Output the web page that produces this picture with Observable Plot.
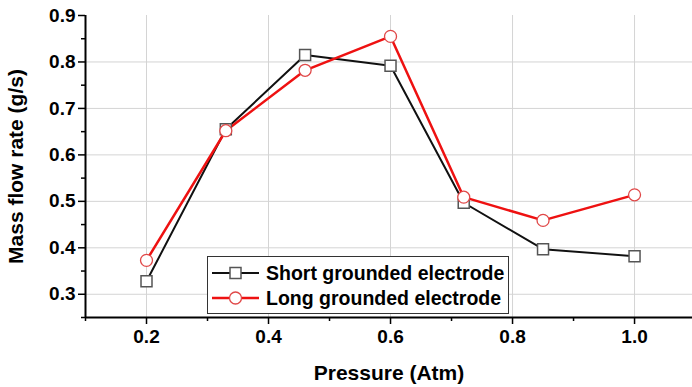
<!DOCTYPE html>
<html>
<head>
<meta charset="utf-8">
<script src="https://cdn.jsdelivr.net/npm/d3@7"></script>
<script src="https://cdn.jsdelivr.net/npm/@observablehq/plot@0.6"></script>
<style>
  html, body { margin: 0; padding: 0; background: #fff; }
  #wrap { position: relative; width: 692px; height: 387px; font-family: "Liberation Sans", Arial, sans-serif; }
  #wrap > svg text { font-size: 19px; font-weight: bold; }
  #legend { position: absolute; left: 207px; top: 256px; width: 302px; height: 58px; border: 1.5px solid #333; background: #fff; box-sizing: border-box; font-weight: bold; font-size: 19.5px; color: #000; }
  #legend .row { position: absolute; left: 0; height: 24px; display: flex; align-items: center; }
  #legend svg { margin-left: 4px; margin-right: 7px; }
</style>
</head>
<body>
<div id="wrap"></div>
<script>
const pressure = [0.2, 0.33, 0.46, 0.6, 0.72, 0.85, 1.0];
const shortElectrode = [0.328, 0.655, 0.815, 0.792, 0.497, 0.397, 0.382];
const longElectrode = [0.373, 0.652, 0.782, 0.855, 0.509, 0.459, 0.514];
const seriesNames = ["Short grounded electrode", "Long grounded electrode"];
const xTicks = [0.2, 0.4, 0.6, 0.8, 1.0];
const xMinor = [0.1, 0.3, 0.5, 0.7, 0.9];
const yTicks = [0.3, 0.4, 0.5, 0.6, 0.7, 0.8, 0.9];
const yMinor = [0.25, 0.35, 0.45, 0.55, 0.65, 0.75, 0.85];

const shortData = pressure.map((p, i) => ({x: p, y: shortElectrode[i]}));
const longData = pressure.map((p, i) => ({x: p, y: longElectrode[i]}));

const chart = Plot.plot({
  width: 692,
  height: 387,
  marginLeft: 85,
  marginRight: 0,
  marginTop: 15,
  marginBottom: 70,
  style: {fontFamily: "'Liberation Sans', Arial, sans-serif", fontWeight: "bold", fontSize: "19px", color: "#000", background: "#fff"},
  x: {domain: [0.1, 1.095]},
  y: {domain: [0.25, 0.9]},
  marks: [
    Plot.gridX(xTicks, {stroke: "#d4d4d4", strokeOpacity: 1, strokeWidth: 1}),
    Plot.gridY(yTicks.slice(0, -1), {stroke: "#d4d4d4", strokeOpacity: 1, strokeWidth: 1}),
    Plot.axisX(xTicks, {tickSize: 7, tickPadding: 5, strokeWidth: 1.5, tickFormat: d => d.toFixed(1), label: "Pressure (Atm)", labelAnchor: "center", labelArrow: "none", labelOffset: 62}),
    Plot.axisX(xMinor, {tickSize: 4, strokeWidth: 1.5, tickFormat: () => "", label: null}),
    Plot.axisY(yTicks, {tickSize: 7, tickPadding: 3, strokeWidth: 1.5, tickFormat: d => d.toFixed(1), label: "Mass flow rate (g/s)", labelAnchor: "center", labelArrow: "none", labelOffset: 77}),
    Plot.axisY(yMinor, {tickSize: 4, strokeWidth: 1.5, tickFormat: () => "", label: null}),
    Plot.ruleY([0.25], {stroke: "#000", strokeWidth: 2}),
    Plot.ruleX([0.1], {stroke: "#000", strokeWidth: 2}),
    Plot.line(shortData, {x: "x", y: "y", stroke: "#111", strokeWidth: 2}),
    Plot.line(longData, {x: "x", y: "y", stroke: "#ee1111", strokeWidth: 2.5}),
    Plot.dot(shortData, {x: "x", y: "y", symbol: "square", r: 6.2, fill: "#fff", stroke: "#555", strokeWidth: 1.5}),
    Plot.dot(longData, {x: "x", y: "y", symbol: "circle", r: 6, fill: "#fff", stroke: "#e04848", strokeWidth: 1.3})
  ]
});

chart.querySelectorAll("[aria-label='y-axis label'] text, [aria-label='x-axis label'] text").forEach(t => t.style.fontSize = "21px");

const wrap = document.getElementById("wrap");
wrap.appendChild(chart);

const legend = document.createElement("div");
legend.id = "legend";
legend.innerHTML = `
  <div class="row" style="top:4px">
    <svg width="47" height="14"><line x1="0" y1="7" x2="47" y2="7" stroke="#111" stroke-width="2"/><rect x="18" y="1.5" width="11" height="11" fill="#fff" stroke="#555" stroke-width="1.5"/></svg>
    <span>${seriesNames[0]}</span>
  </div>
  <div class="row" style="top:29px">
    <svg width="47" height="14"><line x1="0" y1="7" x2="47" y2="7" stroke="#ee1111" stroke-width="2.5"/><circle cx="23.5" cy="7" r="6" fill="#fff" stroke="#e04848" stroke-width="1.3"/></svg>
    <span>${seriesNames[1]}</span>
  </div>`;
wrap.appendChild(legend);
</script>
</body>
</html>
